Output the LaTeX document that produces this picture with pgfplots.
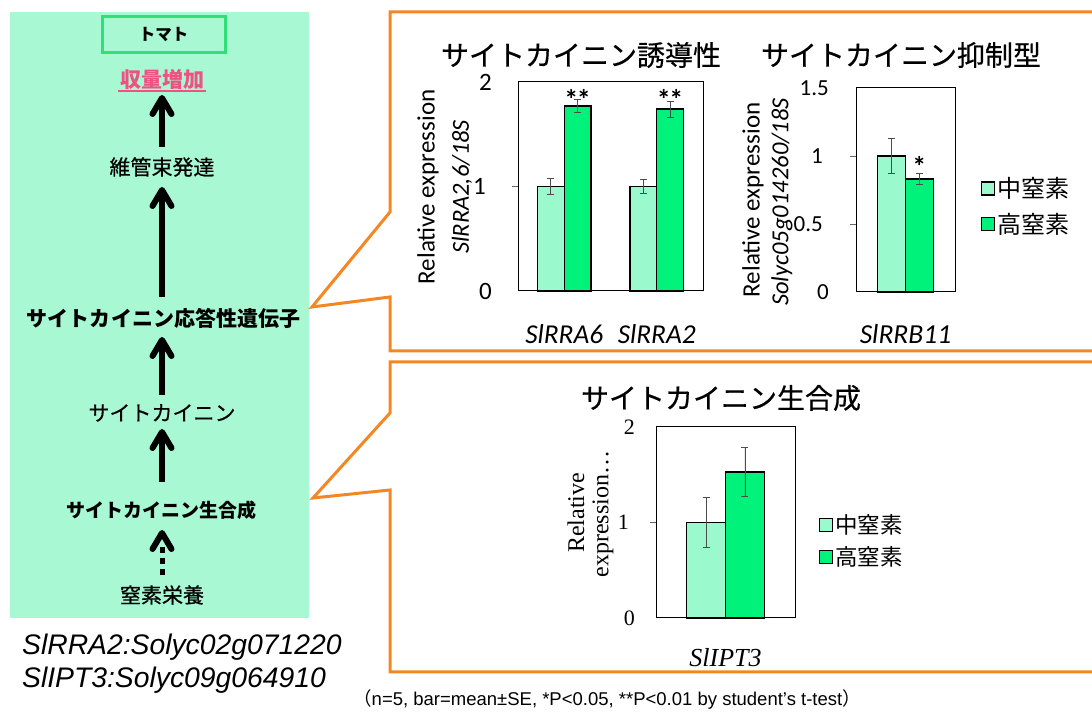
\documentclass[border=0pt]{standalone}
\usepackage{pgfplots}
\pgfplotsset{compat=1.18}
\usepackage{fontspec}
\setmainfont{Liberation Sans}
\newfontfamily\jp{Noto Sans CJK JP}
\newfontfamily\jpm[FakeBold=0.5]{Noto Sans CJK JP}
\newfontfamily\calib{Carlito}
\newfontfamily\ser{Liberation Serif}
\newcommand\fs[1]{\fontsize{#1bp}{#1bp}\selectfont}
\definecolor{mint}{RGB}{168,248,212}
\definecolor{lightbar}{RGB}{155,250,205}
\definecolor{darkbar}{RGB}{0,242,122}
\definecolor{orng}{RGB}{245,135,35}
\definecolor{pinkred}{RGB}{240,80,130}
\definecolor{tomgreen}{RGB}{50,222,120}
\pgfplotsset{
  chart/.style={scale only axis, clip=false, axis line style={line width=1bp},
    ytick pos=left, tick align=outside, major tick length=6bp,
    ytick style={line width=0.6bp, black!60}, xtick style={draw=none},
    /pgf/number format/assume math mode=true,
    xticklabel style={anchor=center, inner sep=0pt},
    yticklabel style={anchor=east, inner sep=0pt}},
  errs/.style={error bars/y dir=both, error bars/y explicit,
    error bars/error bar style={line width=0.8bp, black!70},
    error bars/error mark options={rotate=90, mark size=3.5bp, line width=0.8bp, black!70}},
  sqleg/.style={legend image code/.code={\draw[##1, line width=1.2bp] (0bp,-6.5bp) rectangle (13bp,6.5bp);}},
  lbar/.style={ybar, bar width=#1, bar shift=0pt, fill=lightbar, draw=black, line width=1.4bp, errs, sqleg},
  dbar/.style={ybar, bar width=#1, bar shift=0pt, fill=darkbar, draw=black, line width=1.4bp, errs, sqleg},
}
\begin{document}
\begin{tikzpicture}[x=1bp,y=1bp]
\useasboundingbox (0,0) rectangle (1092,712);
\begin{scope}[shift={(0,712)}, yscale=-1]
\fill[mint] (10,12) rectangle (309,618);
\draw[tomgreen, line width=3bp] (102,17) rectangle (225,53);
\node at (163.5,35) {\jp\bfseries\fs{16.5}トマト};
\node[text=pinkred] at (162,79) {\jp\bfseries\fs{21}収量増加};
\draw[pinkred, line width=1.5bp] (118,91) -- (206,91);
\foreach \t/\b in {95/147, 187/297, 337/395, 429/482} {
  \draw[line width=6bp] (162,\b) -- (162,\t+5);
  \draw[line width=6bp, line cap=round, line join=round] (152.5,\t+19) -- (162,\t+3) -- (171.5,\t+19);
}
\draw[line width=6bp, line cap=round, line join=round] (152.5,549) -- (162,533) -- (171.5,549);
\draw[line width=5bp, dash pattern=on 6bp off 5bp] (162,547) -- (162,576);
\node at (162,167) {\jpm\fs{21}維管束発達};
\node at (163.5,318) {\jp\bfseries\fs{21}サイトカイニン応答性遺伝子};
\node at (162,413) {\jpm\fs{21}サイトカイニン};
\node at (161.5,510) {\jp\bfseries\fs{19}サイトカイニン生合成};
\node at (162,595) {\jpm\fs{21}窒素栄養};
\node[anchor=base west, inner sep=0pt] at (22,655) {\fs{28.3}\itshape SlRRA2:Solyc02g071220};
\node[anchor=base west, inner sep=0pt] at (22,688) {\fs{28.3}\itshape SlIPT3:Solyc09g064910};
\draw[orng, line width=3bp] (390,212) -- (390,12) -- (1100,12) -- (1100,351) -- (390,351) -- (390,297) -- (312,307) -- cycle;
\draw[orng, line width=3bp] (390,413) -- (390,362) -- (1100,362) -- (1100,672) -- (390,672) -- (390,490) -- (313,498) -- cycle;
\node at (581,55) {\jpm\fs{28}サイトカイニン誘導性};
\node at (901,55) {\jpm\fs{28}サイトカイニン抑制型};
\node at (721,398) {\jpm\fs{28}サイトカイニン生合成};
\node[rotate=90] at (428,187) {\calib\fs{25}Relative expression};
\node[rotate=90] at (462,187) {\calib\itshape\fs{24.5}SlRRA2,6/18S};
\node[rotate=90] at (753,200) {\calib\fs{25}Relative expression};
\node[rotate=90] at (782,202) {\calib\itshape\fs{24.5}Solyc05g014260/18S};
\node[rotate=90] at (576,513) {\ser\fs{24}Relative};
\node[rotate=90] at (603,514) {\ser\fs{24}expression…};
\node at (607,700) {\fs{18.5}{\jp （}n=5, bar=mean±SE, *P<0.05, **P<0.01 by student's t-test{\jp ）}};
\end{scope}

\begin{axis}[chart, at={(518bp,421bp)}, anchor=south west, width=185bp, height=209bp,
  xmin=-0.5, xmax=1.5, ymin=0, ymax=2,
  xtick={0,1}, xticklabels={SlRRA6,SlRRA2},
  xticklabel style={font=\calib\itshape\fs{27.3}, yshift=-37bp},
  ytick={1}, extra y ticks={0,2}, extra y tick style={major tick length=0pt},
  yticklabel style={font=\calib\fs{25}, xshift=-26bp}]
\addplot[lbar=0.29] coordinates {(-0.145,1.00) +- (0,0.08) (0.855,1.00) +- (0,0.065)};
\addplot[dbar=0.29] coordinates {(0.145,1.77) +- (0,0.06) (1.145,1.74) +- (0,0.075)};
\node[font=\calib\bfseries\fs{28}] at (axis cs:0.145,1.83) {*\kern-1.5bp*};
\node[font=\calib\bfseries\fs{28}] at (axis cs:1.145,1.83) {*\kern-1.5bp*};
\end{axis}

\begin{axis}[chart, at={(856bp,420bp)}, anchor=south west, width=99bp, height=204bp,
  xmin=-0.5, xmax=0.5, ymin=0, ymax=1.5,
  xtick={0}, xticklabels={SlRRB11},
  xticklabel style={font=\calib\itshape\fs{27.5}, yshift=-36bp},
  ytick={0.5,1}, extra y ticks={0,1.5}, extra y tick style={major tick length=0pt},
  yticklabel style={font=\calib\fs{23}, xshift=-27bp},
  legend cell align=left,
  legend style={at={(1,0.42)}, anchor=west, xshift=26bp, draw=none, fill=none,
    font=\jp\fs{24}, row sep=10bp, inner sep=0pt}]
\addplot[lbar=0.28] coordinates {(-0.14,1.00) +- (0,0.13)};
\addlegendentry{中窒素}
\addplot[dbar=0.28] coordinates {(0.14,0.83) +- (0,0.04)};
\addlegendentry{高窒素}
\node[font=\calib\bfseries\fs{28}] at (axis cs:0.14,0.92) {*};
\end{axis}

\begin{axis}[chart, at={(656bp,94bp)}, anchor=south west, width=139bp, height=191bp,
  xmin=-0.5, xmax=0.5, ymin=0, ymax=2,
  xtick={0}, xticklabels={SlIPT3},
  xticklabel style={font=\ser\itshape\fs{26}, yshift=-34bp},
  ytick={1}, extra y ticks={0,2}, extra y tick style={major tick length=0pt},
  yticklabel style={font=\ser\fs{22}, xshift=-21bp},
  legend cell align=left,
  legend style={at={(1,0.403)}, anchor=west, xshift=24bp, draw=none, fill=none,
    font=\jp\fs{22.5}, row sep=8bp, inner sep=0pt}]
\addplot[lbar=0.28] coordinates {(-0.14,1.00) +- (0,0.26)};
\addlegendentry{中窒素}
\addplot[dbar=0.28] coordinates {(0.14,1.53) +- (0,0.255)};
\addlegendentry{高窒素}
\end{axis}
\end{tikzpicture}
\end{document}
